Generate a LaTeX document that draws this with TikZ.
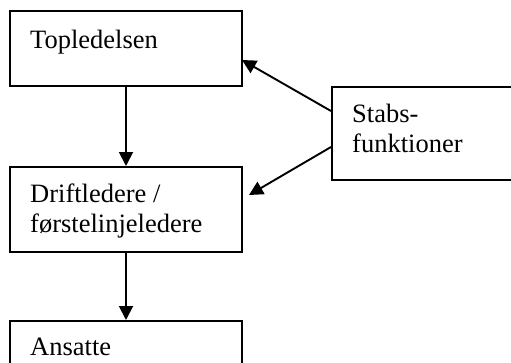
\documentclass[tikz,border=0pt]{standalone}
\usepackage{fontspec}
\setmainfont{Liberation Serif}
\usetikzlibrary{arrows.meta}
\begin{document}
\begin{tikzpicture}[x=1pt,y=-1pt,
  box/.style={draw,line width=2pt,inner sep=0pt,anchor=north west},
  lbl/.style={anchor=base west,inner sep=0pt,font=\fontsize{26.5}{30}\selectfont},
  conn/.style={line width=1.9pt,-{Triangle[length=14pt,width=14pt]}}]
\clip (0,0) rectangle (511,362);
\useasboundingbox (0,0) rectangle (511,362);
\node[box,minimum width=232pt,minimum height=75pt] (top) at (9,10) {};
\node[box,minimum width=232pt,minimum height=85pt] (drift) at (9,166) {};
\node[box,minimum width=232pt,minimum height=60pt] (ans) at (9,320) {};
\node[box,minimum width=200pt,minimum height=93pt] (stab) at (331,86) {};
\node[lbl] (t1) at (30,48) {Topledelsen};
\node[lbl] (t2) at (30,202) {Driftledere /};
\node[lbl] (t3) at (30,232) {førstelinjeledere};
\node[lbl] (t4) at (30,355) {Ansatte};
\node[lbl] (t5) at (352,122) {Stabs-};
\node[lbl] (t6) at (352,152) {funktioner};
\coordinate (s1) at (331,111);
\coordinate (s2) at (331,147);
\coordinate (e1) at (242,60);
\coordinate (e2) at (249,195);
\draw[conn] (top.south) -- (drift.north);
\draw[conn] (drift.south) -- (ans.north);
\draw[conn] (s1) -- (e1);
\draw[conn] (s2) -- (e2);
\end{tikzpicture}
\end{document}
